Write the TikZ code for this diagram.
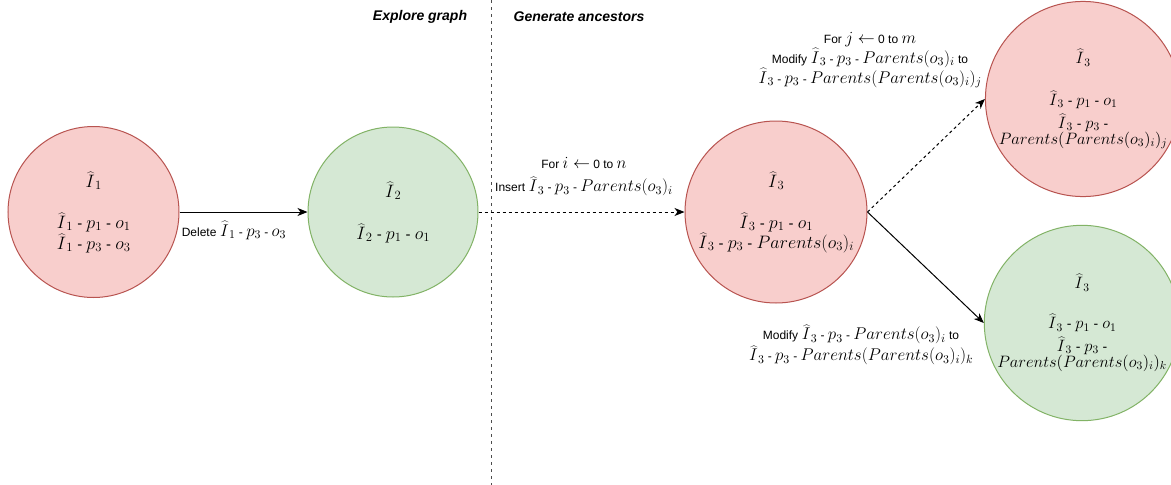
\RequirePackage{fix-cm}
\documentclass[tikz,border=0pt]{standalone}
\usepackage[no-math]{fontspec}
\setmainfont{Liberation Sans}
\usetikzlibrary{arrows.meta}
\definecolor{redfill}{HTML}{F8CECC}
\definecolor{redline}{HTML}{B85450}
\definecolor{greenfill}{HTML}{D5E8D4}
\definecolor{greenline}{HTML}{82B366}
\def\txsize{12}
\newcommand{\tx}[1]{{\fontsize{\txsize}{\txsize}\selectfont #1}}
\newcommand{\bighat}{\kern0.06em\scalebox{0.72}[1]{$\widehat{\phantom{I}\mkern3mu}$}}
\newcommand{\ih}[1]{\mathord{\ooalign{\bighat\cr\hfil$I$\hfil\cr}}_{#1}}
\newcommand{\dd}{\tx{ - }}
\tikzset{
  state/.style={circle, inner sep=0pt, align=center, line width=1pt,
    font=\def\txsize{15}\fontsize{18}{21}\selectfont},
  smallstate/.style={font=\def\txsize{14}\fontsize{16.5}{16}\selectfont},
  redstate/.style={state, draw=redline, fill=redfill},
  greenstate/.style={state, draw=greenline, fill=greenfill},
  lbl/.style={align=center, inner sep=0pt, font=\def\txsize{12}\fontsize{17}{21}\selectfont},
  conn/.style={line width=1pt, -{Stealth[length=10pt,width=8pt,inset=3pt]}},
  dashconn/.style={conn, dash pattern=on 3pt off 3pt},
  header/.style={inner sep=0pt, font=\fontsize{14}{16}\selectfont\bfseries\itshape},
}
\begin{document}
\begin{tikzpicture}[x=1pt,y=-1pt]
\useasboundingbox (0,0) rectangle (1171,485);
\fill[white] (0,0) rectangle (1171,485);

\coordinate (septop) at (491,0);
\coordinate (sepbot) at (491,485);
\draw[black!70, line width=1pt, dash pattern=on 3pt off 4pt] (septop) -- (sepbot);
\node[header] (h1) at (420,17) {Explore graph};
\node[header] (h2) at (579,17) {Generate ancestors};

\node[redstate, minimum size=171pt] (c1) at (93.5,212)
  {$\ih1$\\[20pt] $\ih1$\dd$p_1$\dd$o_1$\\ $\ih1$\dd$p_3$\dd$o_3$};
\node[greenstate, minimum size=170pt] (c2) at (393,212)
  {$\ih2$\\[21pt] $\ih2$\dd$p_1$\dd$o_1$};
\node[redstate, minimum size=182pt, font=\def\txsize{15}\fontsize{18}{20}\selectfont] (c3) at (776,212)
  {$\ih3$\\[21pt] $\ih3$\dd$p_1$\dd$o_1$\\ $\ih3$\dd$p_3$\dd$Parents(o_3)_i$};
\node[redstate, smallstate, minimum size=188pt] (c4) at (1083,99)
  {$\ih3$\\[24pt] $\ih3$\dd$p_1$\dd$o_1$\\[4pt] $\ih3$\dd$p_3$\dd\\ $Parents(Parents(o_3)_i)_j$};
\node[greenstate, smallstate, minimum size=188pt] (c5) at (1082,323)
  {$\ih3$\\[22pt] $\ih3$\dd$p_1$\dd$o_1$\\[4pt] $\ih3$\dd$p_3$\dd\\ $Parents(Parents(o_3)_i)_k$};

\draw[conn] (c1) -- (c2);
\draw[dashconn] (c2) -- (c3);
\draw[dashconn] (c3.east) -- (c4.west);
\draw[conn] (c3.east) -- (c5.west);

\node[lbl, anchor=base] (l1) at (234,236) {\tx{Delete }$\ih1$\dd$p_3$\dd$o_3$};
\node[lbl, font=\def\txsize{12}\fontsize{17}{23}\selectfont] (l2) at (584,177)
  {\tx{For }$i \leftarrow$\tx{ 0 to }$n$\\ \tx{Insert }$\ih3$\dd$p_3$\dd$Parents(o_3)_i$};
\node[lbl, font=\def\txsize{12}\fontsize{17}{20}\selectfont] (l3) at (870,60)
  {\tx{For }$j \leftarrow$\tx{ 0 to }$m$\\ \tx{Modify }$\ih3$\dd$p_3$\dd$Parents(o_3)_i$\tx{ to}\\ $\ih3$\dd$p_3$\dd$Parents(Parents(o_3)_i)_j$};
\node[lbl] (l4) at (861,345)
  {\tx{Modify }$\ih3$\dd$p_3$\dd$Parents(o_3)_i$\tx{ to}\\ $\ih3$\dd$p_3$\dd$Parents(Parents(o_3)_i)_k$};
\end{tikzpicture}
\end{document}
